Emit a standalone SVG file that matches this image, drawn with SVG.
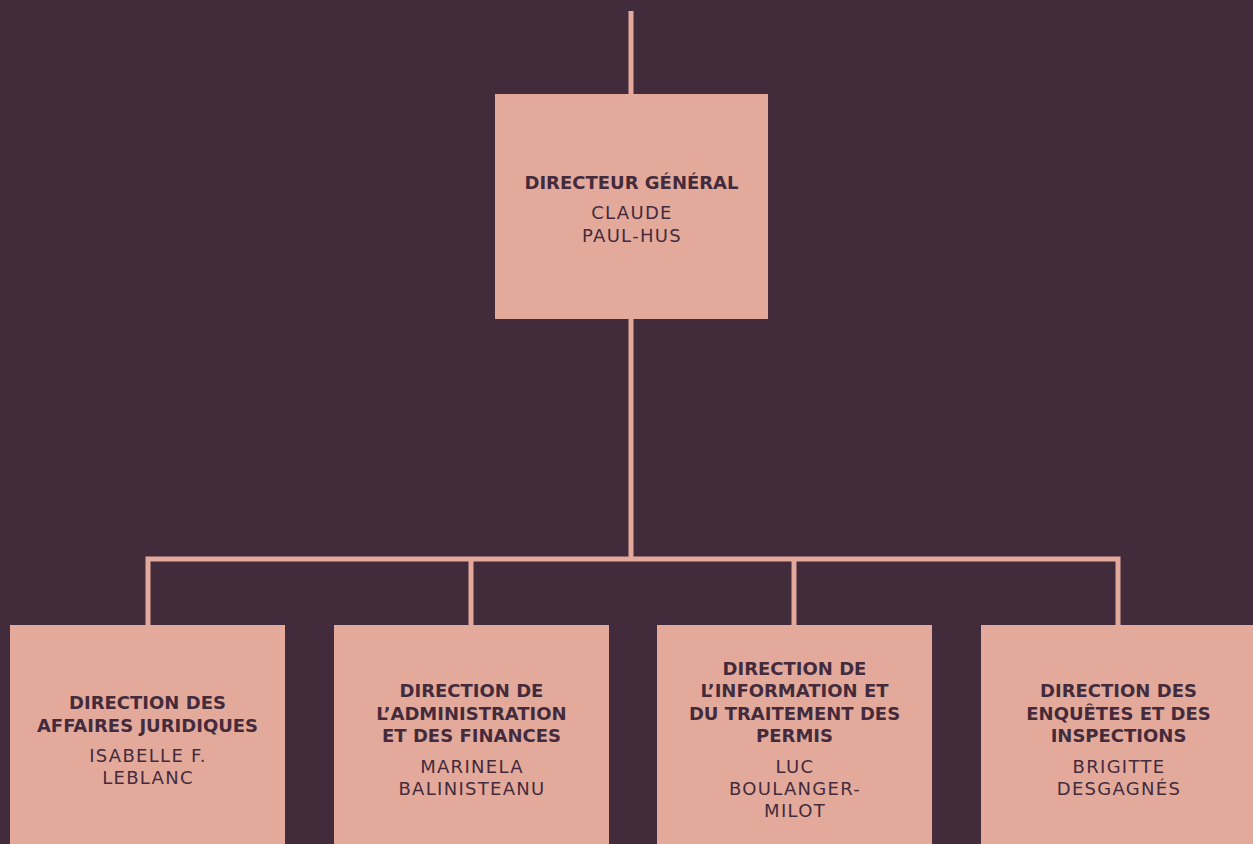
<svg xmlns="http://www.w3.org/2000/svg" width="1253" height="844" viewBox="0 0 1253 844">
<style>
.bg{fill:#422b3a}
.box{fill:#e3aa9c}
.conn{stroke:#e3aa9c;stroke-width:5;fill:none}
.t{font-family:"DejaVu Sans","Liberation Sans",sans-serif;font-size:18px;fill:#442b3c;text-anchor:middle;letter-spacing:1.3px}
.b{font-weight:700;font-size:18px;letter-spacing:0}
</style>
<rect class="bg" x="0" y="0" width="1253" height="844"/>
<g id="connectors">
<path class="conn" d="M631 11V94M631 319V559M148 625V559H1118V625M471 559V625M794 559V625"/>
</g>
<g id="n0">
<rect class="box" x="495" y="94" width="273" height="225"/>
<text class="t b" x="631.5" y="188.5">DIRECTEUR GÉNÉRAL</text>
<text class="t" x="632" y="218.5">CLAUDE</text>
<text class="t" x="632" y="241.5">PAUL-HUS</text>
</g>
<g id="n1">
<rect class="box" x="10" y="625" width="275" height="219"/>
<text class="t b" x="147.5" y="708.5">DIRECTION DES</text>
<text class="t b" x="147.5" y="731.5">AFFAIRES JURIDIQUES</text>
<text class="t" x="148" y="761.5">ISABELLE F.</text>
<text class="t" x="148" y="783.5">LEBLANC</text>
</g>
<g id="n2">
<rect class="box" x="334" y="625" width="275" height="219"/>
<text class="t b" x="471.5" y="696.5">DIRECTION DE</text>
<text class="t b" x="471.5" y="719.5">L’ADMINISTRATION</text>
<text class="t b" x="471.5" y="741.5">ET DES FINANCES</text>
<text class="t" x="472" y="772.5">MARINELA</text>
<text class="t" x="472" y="794.5">BALINISTEANU</text>
</g>
<g id="n3">
<rect class="box" x="657" y="625" width="275" height="219"/>
<text class="t b" x="794.5" y="674.5">DIRECTION DE</text>
<text class="t b" x="794.5" y="696.5">L’INFORMATION ET</text>
<text class="t b" x="794.5" y="719.5">DU TRAITEMENT DES</text>
<text class="t b" x="794.5" y="741.5">PERMIS</text>
<text class="t" x="795" y="772.5">LUC</text>
<text class="t" x="795" y="794.5">BOULANGER-</text>
<text class="t" x="795" y="816.5">MILOT</text>
</g>
<g id="n4">
<rect class="box" x="981" y="625" width="275" height="219"/>
<text class="t b" x="1118.5" y="696.5">DIRECTION DES</text>
<text class="t b" x="1118.5" y="719.5">ENQUÊTES ET DES</text>
<text class="t b" x="1118.5" y="741.5">INSPECTIONS</text>
<text class="t" x="1119" y="772.5">BRIGITTE</text>
<text class="t" x="1119" y="794.5">DESGAGNÉS</text>
</g>
</svg>
